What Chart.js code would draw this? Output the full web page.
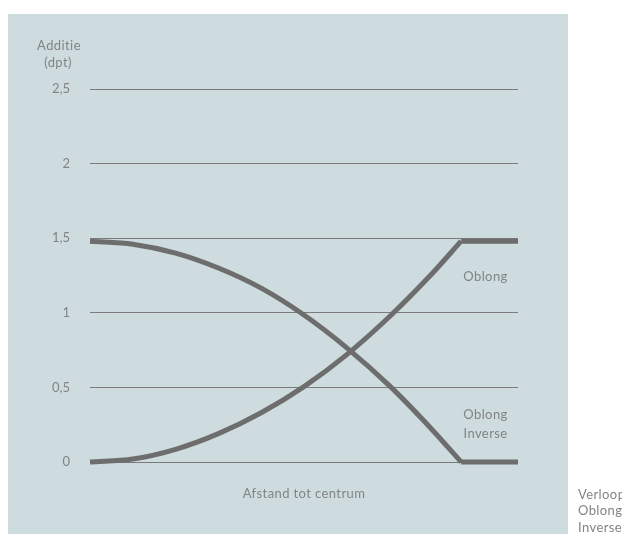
<!DOCTYPE html>
<html>
<head>
<meta charset="utf-8">
<script src="https://cdn.jsdelivr.net/npm/chart.js@4/dist/chart.umd.min.js"></script>
<style>
  html, body { margin: 0; padding: 0; background: #ffffff; overflow: hidden; }
  #wrap { width: 622px; height: 534px; position: relative; }
</style>
</head>
<body>
<div id="wrap"><canvas id="c" width="622" height="534"></canvas></div>
<script>
// Distance to centre (relative units, 0..100)
const distance = [0, 10, 20, 30, 40, 50, 60, 70, 80, 86.7];
const flatDistance = [86.7, 100];
// Addition (dpt)
const oblong        = [0, 0.02, 0.085, 0.19, 0.33, 0.505, 0.72, 0.975, 1.265, 1.48];
const oblongFlat    = [1.48, 1.48];
const inverse       = [1.48, 1.46, 1.40, 1.30, 1.165, 0.985, 0.765, 0.51, 0.215, 0];
const inverseFlat   = [0, 0];
const yTicks = [0, 0.5, 1, 1.5, 2, 2.5];
const yTitle = ['Additie', '(dpt)'];
const xTitle = 'Afstand tot centrum';
const seriesLabels = ['Oblong', ['Oblong', 'Inverse']];
const caption = ['Verloop', 'Oblong', 'Inverse'];

const LINE = '#6d6d6d';
const TEXT = '#818586';
const FONT = 'Lato, "Open Sans", sans-serif';

function pts(xs, ys) { return xs.map((x, i) => ({ x: x, y: ys[i] })); }

const lineBase = {
  borderColor: LINE, borderWidth: 5, pointRadius: 0, pointHoverRadius: 0,
  fill: false, clip: false, borderCapStyle: 'butt', borderJoinStyle: 'miter'
};

const panelPlugin = {
  id: 'panel',
  beforeDraw(chart) {
    const ctx = chart.ctx;
    ctx.save();
    ctx.fillStyle = '#cedbdf';
    ctx.fillRect(8, 14, 560, 520);
    ctx.restore();
  },
  afterDraw(chart) {
    const ctx = chart.ctx;
    const a = chart.chartArea;
    ctx.save();
    ctx.fillStyle = TEXT;
    ctx.font = '13px ' + FONT;
    if ('letterSpacing' in ctx) ctx.letterSpacing = '0.4px';
    ctx.textBaseline = 'middle';
    ctx.textAlign = 'center';
    ctx.fillText(yTitle[0], 59, 46);
    ctx.fillText(yTitle[1], 58, 63);
    ctx.fillText(xTitle, (a.left + a.right) / 2, 494);
    const ys = chart.scales.y;
    const lx = 485.5;
    ctx.fillText(seriesLabels[0], lx, ys.getPixelForValue(1.5) + 39);
    ctx.fillText(seriesLabels[1][0], lx, ys.getPixelForValue(0.5) + 27);
    ctx.fillText(seriesLabels[1][1], lx, ys.getPixelForValue(0.5) + 46);
    ctx.textAlign = 'left';
    ctx.fillText(caption[0], 578, 495);
    ctx.fillText(caption[1], 578, 511);
    ctx.fillText(caption[2], 578, 528);
    ctx.restore();
  }
};

new Chart(document.getElementById('c'), {
  type: 'line',
  data: {
    datasets: [
      Object.assign({ label: 'Oblong', data: pts(distance, oblong), cubicInterpolationMode: 'monotone' }, lineBase),
      Object.assign({ label: 'Oblong flat', data: pts(flatDistance, oblongFlat), tension: 0 }, lineBase),
      Object.assign({ label: 'Oblong Inverse', data: pts(distance, inverse), cubicInterpolationMode: 'monotone' }, lineBase),
      Object.assign({ label: 'Oblong Inverse flat', data: pts(flatDistance, inverseFlat), tension: 0 }, lineBase)
    ]
  },
  options: {
    responsive: false,
    animation: false,
    events: [],
    layout: { padding: { top: 89, left: 0, right: 104, bottom: 0 } },
    plugins: { legend: { display: false }, tooltip: { enabled: false }, title: { display: false } },
    scales: {
      x: {
        type: 'linear', min: 0, max: 100,
        ticks: { display: false },
        grid: { display: false },
        border: { display: false },
        afterFit(axis) { axis.height = 72; }
      },
      y: {
        min: 0, max: 2.5,
        afterBuildTicks(axis) { axis.ticks = yTicks.map(v => ({ value: v })); },
        ticks: {
          color: TEXT, padding: 20,
          font: { family: FONT, size: 13 },
          callback: v => String(v).replace('.', ',')
        },
        grid: { color: '#7a7a7a', lineWidth: 1, drawTicks: false },
        border: { display: false },
        afterFit(axis) { axis.width = 90; }
      }
    }
  },
  plugins: [panelPlugin]
});
</script>
</body>
</html>
